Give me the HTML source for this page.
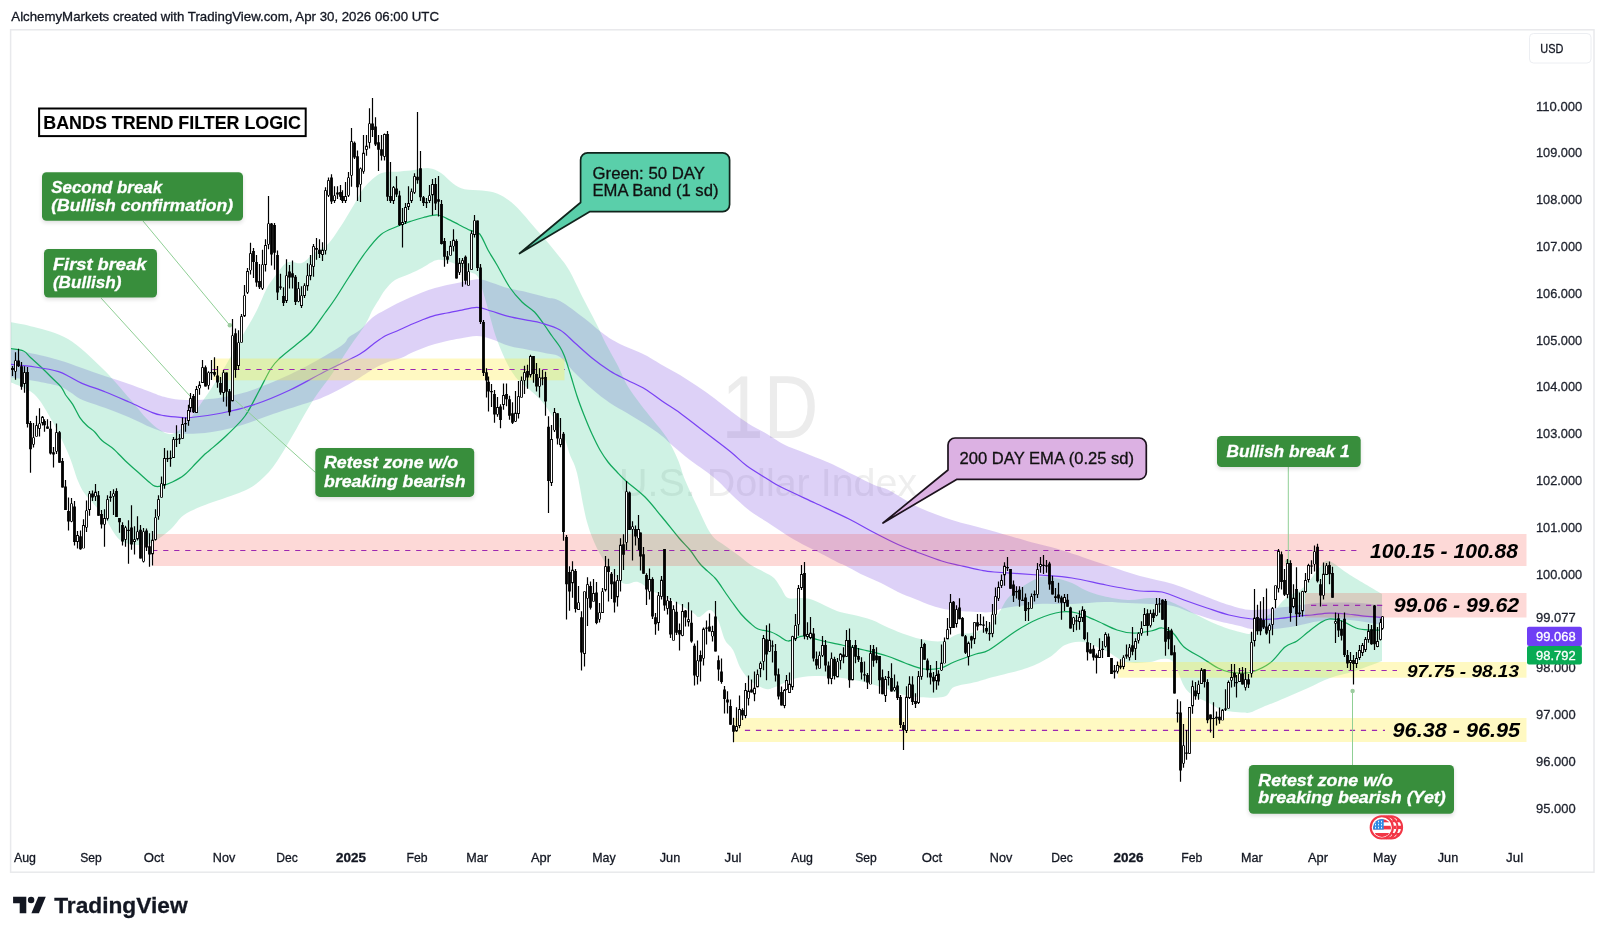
<!DOCTYPE html><html><head><meta charset="utf-8"><title>DXY chart</title><style>html,body{margin:0;padding:0;background:#fff}body{width:1605px;height:938px;overflow:hidden;font-family:"Liberation Sans", sans-serif}svg{display:block;opacity:0.999}</style></head><body><svg width="1605" height="938" viewBox="0 0 1605 938" font-family='"Liberation Sans", sans-serif'><defs><filter id="blur" x="-10%" y="-20%" width="120%" height="150%"><feGaussianBlur stdDeviation="2"/></filter><clipPath id="pane"><rect x="11" y="31" width="1516" height="812"/></clipPath></defs><rect width="1605" height="938" fill="#fff"/><text x="11.3" y="20.6" font-size="13" font-weight="normal" font-style="normal" fill="#131722" text-anchor="start" textLength="427.7" lengthAdjust="spacingAndGlyphs" stroke="#131722" stroke-width="0.3">AlchemyMarkets created with TradingView.com, Apr 30, 2026 06:00 UTC</text><rect x="10.6" y="29.8" width="1583.4" height="842.4" fill="none" stroke="#e8e9ec" stroke-width="1.5"/><text x="721.6" y="438" font-size="89" font-weight="normal" font-style="normal" fill="#ececec" text-anchor="start" textLength="96.7" lengthAdjust="spacingAndGlyphs">1D</text><text x="619" y="495.8" font-size="38.7" font-weight="normal" font-style="normal" fill="#eeeeee" text-anchor="start" textLength="298.2" lengthAdjust="spacingAndGlyphs">U.S. Dollar Index</text><g clip-path="url(#pane)"><path d="M10 349C14.2 349.8 26.9 352.2 35 354C43.1 355.8 50.8 357.7 58.6 360C66.4 362.3 74.2 365.3 82 368C89.8 370.7 97.7 373.6 105.5 376.3C113.3 379 121.2 381.3 129 384C136.8 386.7 146.6 390.6 152.4 392.7C158.2 394.8 159.4 395.6 164 396.8C168.6 398 173.2 399.2 180 399.7C186.8 400.1 195.2 400.4 205 399.5C214.8 398.6 227.7 396.9 239 394C250.3 391.1 261.7 386.7 273 382C284.3 377.3 295.7 372 307 366C318.3 360 334 350.8 341 346C348 341.2 345.8 339.7 349 337C352.2 334.3 356.1 333.2 360 330C363.9 326.8 368.3 320.8 372.5 317.5C376.7 314.2 380.9 312.3 385 310C389.1 307.7 392.8 305.7 397 303.6C401.2 301.5 405.8 299.3 410 297.4C414.2 295.5 417.8 294 422 292.4C426.2 290.8 430.8 289.2 435 288C439.2 286.8 442.8 285.9 447 285C451.2 284.1 455.8 283.2 460 282.4C464.2 281.6 468.7 280.5 472 280C475.3 279.5 476.8 278.9 480 279.3C483.2 279.7 486.1 280.8 491 282.4C495.9 283.9 503.3 286.9 509.5 288.6C515.7 290.3 521.8 290.9 528 292.4C534.2 293.9 541.7 296 547 297.4C552.3 298.8 553.8 297.6 560 301C566.2 304.4 577.2 312.8 584 318C590.8 323.2 595.3 327.8 601 332C606.7 336.2 610.7 339.2 618 343C625.3 346.8 637.7 351.3 645 355C652.3 358.7 656.2 361.7 662 365C667.8 368.3 674.2 371.5 680 375C685.8 378.5 691.3 382.2 697 386C702.7 389.8 708.2 393.7 714 398C719.8 402.3 726.2 407.7 732 412C737.8 416.3 743.2 420.3 749 424C754.8 427.7 761.2 430.6 767 434C772.8 437.4 778.5 441.7 784 444.5C789.5 447.3 794.7 448.8 800 451C805.3 453.2 810.5 455.3 816 457.5C821.5 459.7 826.7 461.5 833 464.4C839.3 467.3 846.9 471.5 854 475C861.1 478.5 869.5 483 875.4 485.6C881.3 488.2 882.3 486.9 889.4 490.5C896.5 494.1 907.6 502.1 918 507C928.4 511.9 940.2 516.2 952 520C963.8 523.8 976.5 526.5 989 530C1001.5 533.5 1015 537.7 1027 541C1039 544.3 1047.8 546 1061 550C1074.2 554 1092.8 560.7 1106 565C1119.2 569.3 1128.8 572.8 1140 576C1151.2 579.2 1161.8 580.5 1173 584C1184.2 587.5 1197.7 593.5 1207 597C1216.3 600.5 1221.5 602.8 1229 605C1236.5 607.2 1242.7 609.7 1252 610C1261.3 610.3 1276.2 607.9 1285 607C1293.8 606.1 1299.2 605.2 1305 604.5C1310.8 603.8 1312.5 603.1 1320 602.8C1327.5 602.5 1339.7 602.2 1350 602.6C1360.3 603 1376.7 604.6 1382 605L1382 625C1376.7 624.2 1360.3 620.7 1350 620C1339.7 619.3 1329 620 1320 621C1311 622 1303.7 624.7 1296 626C1288.3 627.3 1281.3 628.5 1274 629C1266.7 629.5 1257.7 629.5 1252 629C1246.3 628.5 1245.7 627.3 1240 626C1234.3 624.7 1225.5 623 1218 621C1210.5 619 1202.5 616.5 1195 614C1187.5 611.5 1180.3 607.7 1173 606C1165.7 604.3 1158.5 604.5 1151 604C1143.5 603.5 1135.8 603.3 1128 603C1120.2 602.7 1113.3 601.8 1104 602C1094.7 602.2 1083 603.7 1072 604C1061 604.3 1049.2 603.3 1038 604C1026.8 604.7 1012.8 606.7 1005 608C997.2 609.3 995.8 611.3 991 612C986.2 612.7 982.8 612.3 976 612C969.2 611.7 957.2 611 950 610C942.8 609 938.8 607.8 933 606C927.2 604.2 920.8 601.3 915 599C909.2 596.7 903.7 594.7 898 592C892.3 589.3 886.8 585.8 881 583C875.2 580.2 868.8 577.8 863 575C857.2 572.2 850.3 568.2 846 566C841.7 563.8 841.3 564.2 837 562C832.7 559.8 825.8 556 820 553C814.2 550 807.8 547.2 802 544C796.2 540.8 790.8 537.7 785 534C779.2 530.3 772.8 525.8 767 522C761.2 518.2 755.8 515.5 750 511C744.2 506.5 737.3 500 732 495C726.7 490 722.7 485.2 718 481C713.3 476.8 708.7 473.5 704 470C699.3 466.5 695.2 464 690 460C684.8 456 677.7 450 673 446C668.3 442 666.7 439.7 662 436C657.3 432.3 650.8 427.8 645 424C639.2 420.2 632.8 416.5 627 413C621.2 409.5 615.8 407 610 403C604.2 399 597.8 394 592 389C586.2 384 580.3 378.3 575 373C569.7 367.7 564.7 360.3 560 357C555.3 353.7 552.3 354.6 547 353.4C541.7 352.2 534.2 350.9 528 349.7C521.8 348.5 515.7 347.8 509.5 346C503.3 344.2 496.4 340.7 491 339C485.6 337.3 482.2 336.1 477 336C471.8 335.9 465 337.7 460 338.5C455 339.3 451.2 340.1 447 341C442.8 341.9 439.2 342.8 435 344C430.8 345.2 426.2 346.8 422 348.4C417.8 350 413.5 351.8 410 353.4C406.5 355 404.7 356.6 401 358C397.3 359.4 392.3 360.3 388 362C383.7 363.7 380.3 365 375 368C369.7 371 361.5 376.7 356 380C350.5 383.3 347.2 385.1 342 387.9C336.8 390.7 329.9 394.3 324.7 396.6C319.5 398.9 319.4 398.9 310.8 401.8C302.2 404.7 285 410 273 414C261 418 250.3 422.8 239 426C227.7 429.2 216.3 431.8 205 433C193.7 434.2 179.8 433.8 171 433C162.2 432.2 159.4 430.6 152.4 428C145.4 425.4 136.8 420.6 129 417.3C121.2 414 113.3 410.9 105.5 408C97.7 405.1 87.9 402.4 82 399.7C76.1 397 73.9 394.3 70 392C66.1 389.7 64.4 387.8 58.6 386C52.8 384.2 43.1 382.5 35 381C26.9 379.5 14.2 377.7 10 377Z" fill="rgba(120,72,222,0.25)"/><path d="M10 322C14 322.8 24.3 324.2 34 327C43.7 329.8 56.7 332.2 68 339C79.3 345.8 91.7 358 102 368C112.3 378 122.5 390.5 130 399C137.5 407.5 142 413.8 147 419C152 424.2 155.8 427.5 160 430C164.2 432.5 167.8 434.8 172 434C176.2 433.2 180.3 429.8 185 425C189.7 420.2 194.2 413.3 200 405C205.8 396.7 213.3 385.8 220 375C226.7 364.2 234 350.5 240 340C246 329.5 251.7 320.3 256 312C260.3 303.7 263.2 295.5 266 290C268.8 284.5 269.5 283.6 273 279C276.5 274.4 282.2 265.2 287 262.5C291.8 259.8 297.5 264.6 302 263C306.5 261.4 309.7 256.2 314 253C318.3 249.8 323.5 248.5 328 244C332.5 239.5 337.5 231.2 341 226C344.5 220.8 346.2 217.7 349 213C351.8 208.3 355.3 202.4 358 198C360.7 193.6 361.2 190.7 365 186.6C368.8 182.5 375.2 175.8 381 173.3C386.8 170.8 394.5 172.1 400 171.5C405.5 170.9 409.2 170.6 414 170C418.8 169.4 424.5 167.7 429 168.2C433.5 168.7 437 170.4 441 173C445 175.6 449.1 180.8 453 183.5C456.9 186.2 459.7 188.1 464.5 189.3C469.3 190.5 476.6 189.8 482 190.5C487.4 191.2 492.1 191.5 497 193.4C501.9 195.3 507.1 198.8 511.4 202.2C515.7 205.6 519.1 209.7 523 214C526.9 218.3 531.1 223.5 535 228C538.9 232.5 542.8 236.5 546.6 241C550.4 245.5 554.3 250.2 558 255C561.7 259.8 564.7 262.5 569 270C573.3 277.5 579.5 291.2 584 300C588.5 308.8 592.3 315.7 596 323C599.7 330.3 602.3 336.8 606 344C609.7 351.2 614.5 359.2 618 366C621.5 372.8 623.2 378.5 627 385C630.8 391.5 636.7 399.2 641 405C645.3 410.8 648.7 414.5 653 420C657.3 425.5 662.8 431.3 667 438C671.2 444.7 675 453 678 460C681 467 681.8 472.3 685 480C688.2 487.7 692.7 497 697 506C701.3 515 706.5 527.5 711 534C715.5 540.5 719.5 541.5 724 545C728.5 548.5 733.5 551.7 738 555C742.5 558.3 746.7 562.2 751 565C755.3 567.8 760.2 569.8 764 572C767.8 574.2 771.2 575.3 774 578C776.8 580.7 778.7 584.7 781 588C783.3 591.3 784.5 596.3 788 598C791.5 599.7 797.8 597.7 802 598C806.2 598.3 808.7 598.5 813 600C817.3 601.5 823.5 605 828 607C832.5 609 835.7 610.7 840 612C844.3 613.3 848.7 613.7 854 615C859.3 616.3 866.2 617.8 872 620C877.8 622.2 883.2 625.5 889 628C894.8 630.5 901 633 907 635C913 637 919 639 925 640C931 641 937.5 642 943 641C948.5 640 953.3 635.3 958 634C962.7 632.7 965.8 634.3 971 633C976.2 631.7 984.2 629.7 989 626C993.8 622.3 996.3 616.2 1000 611C1003.7 605.8 1004.7 600.5 1011 595C1017.3 589.5 1030.8 580.8 1038 578C1045.2 575.2 1048.3 577.2 1054 578C1059.7 578.8 1066.8 581 1072 583C1077.2 585 1079.8 587.8 1085 590C1090.2 592.2 1095.8 594.3 1103 596C1110.2 597.7 1120.2 599.7 1128 600C1135.8 600.3 1143.7 598 1150 598C1156.3 598 1160.3 598.3 1166 600C1171.7 601.7 1179.2 605.7 1184 608C1188.8 610.3 1189.3 611.2 1195 614C1200.7 616.8 1210.5 622 1218 625C1225.5 628 1234.3 630.7 1240 632C1245.7 633.3 1248 635.2 1252 633C1256 630.8 1260.2 622.8 1264 619C1267.8 615.2 1271.3 613.5 1275 610C1278.7 606.5 1281.2 601.8 1286 598C1290.8 594.2 1298.3 592.2 1304 587C1309.7 581.8 1315.8 571.3 1320 567C1324.2 562.7 1324 559.7 1329 561C1334 562.3 1341.2 569.5 1350 575C1358.8 580.5 1376.7 590.8 1382 594L1382 661C1377.5 662.7 1363.7 668.2 1355 671C1346.3 673.8 1337.8 675.2 1330 678C1322.2 680.8 1315.5 684.7 1308 688C1300.5 691.3 1292.5 694.8 1285 698C1277.5 701.2 1268.8 704.6 1263 707C1257.2 709.4 1253.2 711.7 1250 712.6C1246.8 713.5 1246.9 712.8 1244 712.6C1241.1 712.5 1236.3 712.2 1232.4 711.7C1228.5 711.2 1224.6 711 1220.7 709.5C1216.8 708 1213 705 1209 703C1205 701 1200 698.9 1197 697.4C1194 695.9 1193.2 695.9 1191 694C1188.8 692.1 1187 691.3 1184 686C1181 680.7 1176.7 666.5 1173 662C1169.3 657.5 1165.8 659 1162 659C1158.2 659 1156 661.5 1150 662C1144 662.5 1133.3 663.8 1126 662C1118.7 660.2 1113.2 654.3 1106 651C1098.8 647.7 1089.8 643 1083 642C1076.2 641 1070.5 642.5 1065 645C1059.5 647.5 1056.3 653.2 1050 657C1043.7 660.8 1036.5 664.7 1027 668C1017.5 671.3 1001.5 674.7 993 677C984.5 679.3 982.5 680.3 976 682C969.5 683.7 959.5 684.5 954 687C948.5 689.5 950.5 695.5 943 697C935.5 698.5 918.3 697.3 909 696C899.7 694.7 894.5 691.3 887 689C879.5 686.7 871.5 683.8 864 682C856.5 680.2 849.3 679 842 678C834.7 677 827.5 676 820 676C812.5 676 804.5 676.2 797 678C789.5 679.8 780.2 685.2 775 687C769.8 688.8 769.8 689.8 766 689C762.2 688.2 756.2 685.3 752 682C747.8 678.7 744.2 674.3 741 669C737.8 663.7 735.7 654.8 733 650C730.3 645.2 727.5 645 725 640C722.5 635 720.5 625 718 620C715.5 615 713.2 610.5 710 610C706.8 609.5 702 616.7 699 617C696 617.3 697.8 615.5 692 612C686.2 608.5 670.7 599.5 664 596C657.3 592.5 656.3 593.3 652 591C647.7 588.7 642.3 583.2 638 582C633.7 580.8 629.5 584.7 626 584C622.5 583.3 621.3 583 617 578C612.7 573 605 563.3 600 554C595 544.7 590.8 535.5 587 522C583.2 508.5 579.8 484.2 577 473C574.2 461.8 572.5 461.8 570 455C567.5 448.2 566.3 440.5 562 432C557.7 423.5 549.3 411 544 404C538.7 397 534 393.7 530 390C526 386.3 523 385 520 382C517 379 514.6 376 512 372C509.4 368 507.2 363.8 504.5 358C501.8 352.2 498.5 344.2 496 337C493.5 329.8 491.5 321.7 489.6 315C487.7 308.3 486.5 303.3 484.6 297C482.7 290.7 480.4 281.2 478 277C475.6 272.8 473 273.8 470 272C467 270.2 463.3 267.7 460 266C456.7 264.3 453 263 450 262C447 261 444.5 260.2 442 260C439.5 259.8 438.3 259.3 435 260.6C431.7 261.9 426.2 265.8 422 268C417.8 270.2 414.5 271.7 410 273.7C405.5 275.7 399.2 277.3 395 280C390.8 282.7 387.7 286.7 385 290C382.3 293.3 380.8 296.7 378.7 300C376.6 303.3 374.8 305.8 372.5 310C370.2 314.2 368.9 318.7 365 325C361.1 331.3 354.5 339.8 349 348C343.5 356.2 337.8 365.7 332 374C326.2 382.3 319.5 390.5 314.5 398C309.5 405.5 306.1 412 302 419C297.9 426 294.8 432 290 440C285.2 448 278.7 459.7 273 467C267.3 474.3 261.7 479.7 256 484C250.3 488.3 247.5 489.5 239 493C230.5 496.5 214.2 501.3 205 505C195.8 508.7 189.7 511 184 515C178.3 519 175.8 524.7 171 529C166.2 533.3 160.2 538.3 155 541C149.8 543.7 145.8 545.2 140 545C134.2 544.8 125.8 544.5 120 540C114.2 535.5 109.2 523.8 105 518C100.8 512.2 98.3 509.5 95 505.5C91.7 501.5 87.8 498.1 85 494C82.2 489.9 80.8 487.8 78 481C75.2 474.2 72.5 463.3 68 453C63.5 442.7 56.7 428.8 51 419C45.3 409.2 40.8 400.2 34 394C27.2 387.8 14 384 10 382Z" fill="rgba(26,193,126,0.21)"/><path d="M10 348.5C12.2 348.9 20.1 349.5 23.5 351C26.9 352.5 27.6 354.8 30.5 357.5C33.4 360.2 37.5 363.7 41 367C44.5 370.3 48.3 374.2 51.6 377.5C54.9 380.8 58.6 383.9 61 386.8C63.4 389.7 63.8 392.1 65.7 395C67.7 397.9 70.4 400.7 72.7 404.4C75 408.1 77.4 413.8 79.7 417.3C82 420.8 84.2 423 86.8 425.5C89.3 428 92.5 429.7 95 432.2C97.5 434.7 98.9 437.7 102 440.5C105.1 443.3 109.9 445.8 113.8 449.2C117.7 452.6 121.6 457.3 125.5 461C129.4 464.7 133.4 468 137.3 471.5C141.2 475 146.1 479.6 149 482C151.9 484.4 152.9 485.5 154.8 486.2C156.8 486.9 157.8 486.9 160.7 486.2C163.6 485.5 168.5 483.9 172.4 482C176.3 480.1 180.3 478.1 184.2 475C188.1 471.9 192.4 466.8 195.9 463.3C199.4 459.8 202.7 456.2 205 454C207.3 451.8 206.3 453.2 210 450C213.7 446.8 221.2 440.7 227 435C232.8 429.3 239.7 423.3 245 416C250.3 408.7 254.7 398.9 259 391C263.3 383.1 267.5 374 271 368.5C274.5 363 275.7 362.1 280 358C284.3 353.9 291.8 348.3 297 344C302.2 339.7 306.3 337.2 311 332C315.7 326.8 321 318.5 325 313C329 307.5 331 305 335 299C339 293 344 284.7 349 277C354 269.3 359.7 260.1 365 253C370.3 245.9 375.7 238.9 381 234.5C386.3 230.1 391.9 228.8 397 226.5C402.1 224.2 407.3 222.5 411.7 221C416.1 219.5 419.2 218.5 423.5 217.5C427.8 216.5 433.6 214.8 437.5 215C441.4 215.2 443.5 217 447 218.6C450.5 220.2 454.7 222.5 458.6 224.5C462.5 226.5 466.9 228.8 470.4 230.4C473.9 232 476.8 230.7 479.7 234C482.6 237.3 485.1 244.8 488 250C490.9 255.2 493.4 258.8 497 265C500.6 271.2 505.3 280.8 509.5 287C513.7 293.2 517.8 297.8 522 302C526.2 306.2 530.8 308.2 534.5 312C538.2 315.8 541.5 321 544.4 325C547.3 329 549.4 332.3 552 336C554.6 339.7 557.9 343.7 560 347C562.1 350.3 562.7 351.7 564.4 356C566.1 360.3 567.9 366.3 570 373C572.1 379.7 574.7 389 577 396C579.3 403 581.5 408.7 584 415C586.5 421.3 589.3 428.2 592 434C594.7 439.8 597.3 445.3 600 450C602.7 454.7 605.2 458.3 608 462C610.8 465.7 614 468.8 617 472C620 475.2 621.3 476.8 626 481C630.7 485.2 639 491 645 497C651 503 656.3 510.2 662 517C667.7 523.8 674.3 532.5 679 538C683.7 543.5 686.3 545.5 690 550C693.7 554.5 696.8 560.3 701 565C705.2 569.7 711 573.5 715 578C719 582.5 722.2 588 725 592C727.8 596 729.3 598.3 732 602C734.7 605.7 738 610.5 741 614C744 617.5 747.2 620.5 750 623C752.8 625.5 754.5 627.5 758 629C761.5 630.5 767.5 630.8 771 632C774.5 633.2 776.2 634.5 779 636C781.8 637.5 784.7 640.8 788 641C791.3 641.2 796 637.8 799 637C802 636.2 802.7 635.5 806 636C809.3 636.5 813 638.5 819 640C825 641.5 834.5 643.3 842 645C849.5 646.7 856.5 648.2 864 650C871.5 651.8 880.2 653.8 887 656C893.8 658.2 898.8 660.8 905 663C911.2 665.2 918 668.2 924 669C930 669.8 936 669.2 941 668C946 666.8 948.2 664.3 954 662C959.8 659.7 970.2 656 976 654C981.8 652 982.3 653.8 989 650C995.7 646.2 1007.8 636.2 1016 631C1024.2 625.8 1030.5 622.2 1038 619C1045.5 615.8 1054.5 613 1061 612C1067.5 611 1071.3 611.7 1077 613C1082.7 614.3 1088.3 617.2 1095 620C1101.7 622.8 1110.7 627.8 1117 630C1123.3 632.2 1127.3 632.8 1133 633C1138.7 633.2 1146.2 631.8 1151 631C1155.8 630.2 1158.3 627.7 1162 628C1165.7 628.3 1169.3 629.8 1173 633C1176.7 636.2 1179.2 642.8 1184 647C1188.8 651.2 1196.3 654.5 1202 658C1207.7 661.5 1213.5 665.7 1218 668C1222.5 670.3 1225.3 671.2 1229 672C1232.7 672.8 1236.2 673 1240 673C1243.8 673 1247 673.7 1252 672C1257 670.3 1264.5 667.2 1270 663C1275.5 658.8 1280.5 650.7 1285 647C1289.5 643.3 1293.2 643.5 1297 641C1300.8 638.5 1304.2 635 1308 632C1311.8 629 1316.5 625.2 1320 623C1323.5 620.8 1325.3 619.3 1329 619C1332.7 618.7 1337.5 619.5 1342 621C1346.5 622.5 1351.5 626.5 1356 628C1360.5 629.5 1364.7 629.7 1369 630C1373.3 630.3 1379.8 630 1382 630" fill="none" stroke="#12a85c" stroke-width="1.25"/><path d="M10 364.4C14.2 364.8 26.9 365.8 35 367C43.1 368.2 52.8 369.9 58.6 371.6C64.4 373.3 66.1 375.1 70 377C73.9 378.9 76.1 380.8 82 383.3C87.9 385.8 97.7 388.9 105.5 392C113.3 395.1 121.2 398.6 129 402C136.8 405.4 146.6 410.3 152.4 412.6C158.2 414.9 159.4 414.8 164 415.6C168.6 416.4 175.5 417 180 417.3C184.5 417.6 184 418.2 191 417.5C198 416.8 211.2 415.2 222 413C232.8 410.8 244.7 407.8 256 404C267.3 400.2 278.7 395.3 290 390C301.3 384.7 312.3 378 324 372C335.7 366 351.9 358.6 360 354C368.1 349.4 368.3 347.7 372.5 344.7C376.7 341.7 380.9 338.3 385 336C389.1 333.7 392.8 332.8 397 331C401.2 329.2 405.8 326.8 410 325C414.2 323.2 417.8 321.6 422 320C426.2 318.4 430.8 316.6 435 315.4C439.2 314.2 442.8 313.8 447 313C451.2 312.2 455 311.3 460 310.4C465 309.4 471.8 307.2 477 307.3C482.2 307.4 485.6 309.4 491 311C496.4 312.6 503.3 315.1 509.5 316.7C515.7 318.3 522.8 319.3 528 320.4C533.2 321.4 535.7 321.4 541 323C546.3 324.6 554.3 326.7 560 330C565.7 333.3 569.7 338.3 575 343C580.3 347.7 586.2 353.3 592 358C597.8 362.7 604.2 367.3 610 371C615.8 374.7 621.2 377 627 380C632.8 383 639.2 385.5 645 389C650.8 392.5 656.2 397 662 401C667.8 405 674.2 408.8 680 413C685.8 417.2 691.3 421.7 697 426C702.7 430.3 708.2 434.5 714 439C719.8 443.5 726.5 448.5 732 453C737.5 457.5 740.8 461.5 747 466C753.2 470.5 763.3 476.5 769 480C774.7 483.5 773.3 483.2 781 487C788.7 490.8 803.7 497.7 815 503C826.3 508.3 839.5 514.2 849 519C858.5 523.8 863.8 527.2 872 531.5C880.2 535.8 890.8 541.2 898 544.5C905.2 547.8 908.2 548.8 915.5 551.5C922.8 554.2 934.3 558.7 941.7 561C949.1 563.3 953.6 564 960 565.5C966.4 567 974.3 568.9 980 570C985.7 571.1 984.3 571.2 994 572C1003.7 572.8 1025 574 1038 575C1051 576 1060.7 576.3 1072 578C1083.3 579.7 1094.7 582.8 1106 585C1117.3 587.2 1130.7 589.8 1140 591C1149.3 592.2 1154.7 590.5 1162 592C1169.3 593.5 1176.5 597.3 1184 600C1191.5 602.7 1199.5 605.5 1207 608C1214.5 610.5 1221.5 613.2 1229 615C1236.5 616.8 1244.5 618.3 1252 619C1259.5 619.7 1266.7 619.4 1274 619C1281.3 618.6 1289.7 617.1 1296 616.4C1302.3 615.7 1306.5 615.5 1312 615C1317.5 614.5 1323.2 613.4 1329 613.2C1334.8 613 1341.5 613.5 1347 614C1352.5 614.5 1356.2 615.3 1362 615.9C1367.8 616.5 1378.7 617.1 1382 617.4" fill="none" stroke="#7a42f4" stroke-width="1.25"/><rect x="153" y="534" width="1373.5" height="32" fill="rgba(244,67,54,0.20)"/><rect x="1305" y="593" width="221.5" height="24.5" fill="rgba(244,67,54,0.20)"/><rect x="213" y="358.5" width="351.5" height="21.8" fill="rgba(255,235,59,0.31)"/><rect x="1118" y="662" width="408.5" height="15.7" fill="rgba(255,235,59,0.31)"/><rect x="734" y="718" width="792.5" height="24" fill="rgba(255,235,59,0.31)"/><path d="M212.4 369.5H565" stroke="#9c27b0" stroke-width="1.1" stroke-dasharray="5.2 5.8" fill="none"/><path d="M152.2 550.5H1357" stroke="#9c27b0" stroke-width="1.1" stroke-dasharray="5.2 5.8" fill="none"/><path d="M1311 605.4H1383" stroke="#9c27b0" stroke-width="1.1" stroke-dasharray="5.2 5.8" fill="none"/><path d="M1128.5 670.5H1397" stroke="#9c27b0" stroke-width="1.1" stroke-dasharray="5.2 5.8" fill="none"/><path d="M744.9 730.4H1385" stroke="#9c27b0" stroke-width="1.1" stroke-dasharray="5.2 5.8" fill="none"/><path d="M143 221L229.5 325" stroke="#8fcf95" stroke-width="1" fill="none"/><circle cx="229.8" cy="325.3" r="2.2" fill="#9ccc9f"/><path d="M101 298L190 396" stroke="#8fcf95" stroke-width="1" fill="none"/><path d="M315.5 472.5L235.5 400.5" stroke="#8fcf95" stroke-width="1" fill="none"/><path d="M1288.3 467V561" stroke="#8fcf95" stroke-width="1" fill="none"/><circle cx="1287.6" cy="561.5" r="2.2" fill="#9ccc9f"/><path d="M1352.5 691V766" stroke="#8fcf95" stroke-width="1" fill="none"/><circle cx="1352.6" cy="691" r="2.2" fill="#9ccc9f"/><path d="M12.5 366V376M15.5 352.2V379.8M18.5 348.7V367M21.5 362V389.8M24.5 366.3V392.7M27.5 367V427.6M30.5 421.1V472.7M33.5 422.9V447.5M36.5 415.8V436.4M39.5 408.2V436.4M42.5 416V425.5M44.5 419.3V431.7M47.5 419.3V428.7M50.5 421.1V454.5M53.5 446.9V467.4M56.5 423.5V453.9M59.5 431.1V462.7M62.5 458V487.6M65.5 480V509.9M68.5 497.6V530.4M71.5 498.1V522.2M74.5 501.1V545.6M77.5 531V548.6M80.5 530.4V549.7M83.5 519.3V548.3M86.5 500.5V532.1M89.5 491.1V515.7M92.5 490.5V501.1M95.5 484.1V501.1M98.5 491.1V515.7M101.5 509.9V528.6M104.5 509.3V546.8M107.5 495.2V520.4M110.5 491.1V501.7M113.5 489.3V515.1M116.5 488.2V516.9M119.5 518.1V532.7M122.5 522.2V545.6M125.5 525.7V546.8M128.5 520.2V563.8M131.5 505.2V549.7M134.5 526.3V554.4M137.5 516.3V540.4M140.5 525.1V558.5M143.5 528V562.6M146.5 528.6V550.9M149.5 533.3V566.7M152.5 531V565.6M155.5 509.3V540.4M158.5 495.2V519.8M161.5 476.4V497.6M164.5 448.1V488.8M167.5 450.4V462.1M170.5 450.4V466.8M173.5 436.9V458M176.5 425.2V446.9M179.5 434V444M182.5 417.6V438.7M185.5 417.6V431.7M188.5 404.7V425.8M190.5 393V412.3M193.5 394V413M196.5 386V412.9M199.5 381.3V394.7M202.5 360.1V383M205.5 365.4V386.5M208.5 371.3V389.5M211.5 360.1V380.1M214.5 357.2V376.6M217.5 366V387.7M220.5 377.1V394.7M223.5 370.1V401.8M226.5 372.5V406.5M229.5 388.9V415.8M232.5 319.1V401.2M235.5 328.5V377.7M238.5 330.2V370.1M241.5 314V342.6M244.5 285V317M247.5 268V294M250.5 242.8V274.4M253.5 248V277.9M256.5 255.1V286.7M259.5 263.9V289M262.5 249.8V290M265.5 239.2V271.5M268.5 195.9V249.2M271.5 223V265.6M274.5 223V269.7M277.5 250.4V300M280.5 273.8V289.7M283.5 287.3V306M286.5 259.2V303M289.5 265V288.5M292.5 260.4V288.5M295.5 275V305M298.5 282.1V302.2M301.5 286.2V308M304.5 283.2V298M307.5 263.3V290.8M310.5 255.1V280.3M313.5 243.9V276.8M316.5 238.1V259.8M319.5 239.2V258M322.5 242.2V260.9M325.5 187.3V254.5M328.5 177.4V197M331.5 174.2V204M334.5 186.2V203M337.5 186.2V199M340.5 185V200M342.5 190.3V203M345.5 182V203M348.5 172.1V197M351.5 128.1V186.7M354.5 141.6V159M357.5 150.4V201M360.5 167.4V202M363.5 135.1V173.8M366.5 135.1V155.7M369.5 108.2V148.6M372.5 98V136.9M375.5 117.2V146M378.5 135.1V170.9M381.5 135.1V160.4M384.5 133.4V160.4M387.5 131V201M390.5 162.1V203M393.5 186V204M396.5 176.2V197M399.5 190.8V226M402.5 208V247.4M405.5 203V224M408.5 186.2V210M411.5 188.5V203M414.5 173.3V194M417.5 112V183.8M420.5 151V201M423.5 196V206M426.5 198V208M429.5 185V203M432.5 179V215.2M435.5 178V209.9M438.5 176V216.4M441.5 199.9V244.5M444.5 238V266.8M447.5 250.9V263.8M450.5 241V255.6M453.5 229.2V251.5M456.5 239.2V278.5M459.5 258V275M462.5 258V286.7M465.5 255.6V284.4M468.5 263.3V285.5M471.5 230.4V269.7M474.5 214.9V237.5M477.5 220.5V270.9M480.5 264V324M483.5 320V376M486.5 368.2V397.5M488.5 376.4V411.6M491.5 384V406.9M494.5 389.9V422.7M497.5 396.9V416.8M500.5 404.2V428.3M503.5 383.4V409.8M506.5 383.4V406.3M509.5 395.7V419.8M512.5 402.2V423.9M515.5 391V422.1M518.5 381.1V418.6M521.5 376.4V397.5M524.5 365.8V394M527.5 364.7V388.7M530.5 354.7V377.6M533.5 355.9V382.8M536.5 362.9V391.6M539.5 368.2V397.5M542.5 369.9V385.2M545.5 371.7V415.7M548.5 416.3V513M551.5 425V486M554.5 408V432M557.5 413.3V444.4M560.5 418V447.3M563.5 432V540.7M566.5 535V619.5M569.5 566.2V610.7M572.5 561.2V597.8M575.5 569.1V612.5M578.5 586.1V610.1M581.5 611.3V670.5M584.5 591.4V666.4M587.5 577.3V626M590.5 581.4V609.6M593.5 579.1V601.4M596.5 582V624.2M599.5 603.1V622.5M602.5 587.9V613.1M605.5 555.9V591.4M608.5 558.8V601.4M611.5 572V599M614.5 569.1V612.5M617.5 575V606.6M620.5 538.3V591.4M623.5 534.2V570M626.5 481.1V550M629.5 491.4V530.1M632.5 521.3V560.6M635.5 525.4V545.4M638.5 514.9V550M640.5 532.5V570.6M643.5 547.1V573.8M646.5 573.2V604.9M649.5 568.5V599.6M652.5 577.3V618.9M655.5 613.1V634.8M658.5 592V630.7M661.5 576.1V599.6M664.5 549V610.7M667.5 596V614.6M670.5 598V638.1M673.5 605.2V640.4M676.5 601.7V635.1M679.5 623.4V650.4M682.5 604.1V636.3M685.5 609.9V626.4M688.5 602.3V626.4M691.5 610.5V642.8M694.5 643.4V685.6M697.5 640.4V684.4M700.5 650.4V681.5M703.5 627.5V665.6M706.5 620.5V644.5M709.5 613.5V631.6M712.5 625.8V641.6M715.5 601.1V651.6M718.5 655.6V680.8M721.5 658.5V683.7M724.5 686V713.6M727.5 691.3V713.6M730.5 699.5V724.7M733.5 717.7V742.3M736.5 707.2V731.8M739.5 695.4V728.3M742.5 708.3V720M745.5 683.1V718.3M748.5 675.5V705.4M751.5 679.6V692.5M754.5 671.4V701.3M757.5 669.6V687.2M760.5 661.4V677.2M763.5 635.1V670.2M766.5 625.2V680.2M769.5 623.4V652M772.5 640.4V662.6M775.5 643.9V681.4M778.5 668.5V699.5M781.5 686.6V705.4M784.5 689V708.3M786.5 675V690.2M789.5 672.6V693.1M792.5 635.7V690.1M795.5 614V641M798.5 585V635.7M801.5 565V590M804.5 562V639.2M807.5 622.2V639.8M810.5 617V639.2M813.5 628.1V661.4M816.5 651.4V669.6M819.5 651.4V668.5M822.5 636V657M825.5 640V671.4M828.5 661.4V684.3M831.5 652.6V684.3M834.5 656.7V679.6M837.5 657.9V677.2M840.5 653.2V669.6M843.5 647.3V663.2M846.5 630V657M849.5 628.5V687.8M852.5 645V680.2M855.5 640V663.2M858.5 648V662M861.5 657.3V679.6M864.5 661.4V681.4M867.5 673.1V689M870.5 645V684.3M873.5 645V666.7M876.5 647.3V663.2M879.5 656.1V693.7M882.5 669.6V694.3M885.5 676.1V701.9M888.5 670.9V685.6M891.5 663.3V691.4M894.5 674.4V691.4M897.5 681.5V700M900.5 695V728M903.5 722V750M906.5 686.2V733M909.5 676.2V699M912.5 676.2V705M915.5 693.2V708M918.5 670.9V704M921.5 639.2V679.7M924.5 642.8V659.8M927.5 658.6V677.4M930.5 665V684.4M933.5 672.1V692.6M936.5 660.9V689.7M938.5 670.3V685.6M941.5 644.5V670.9M944.5 637.5V663.3M947.5 618.1V639.2M950.5 594.1V634.6M953.5 601.1V628.1M956.5 605.2V627.5M959.5 598.2V619.3M962.5 617V636.3M965.5 635.1V653.9M968.5 641.6V665.6M971.5 635.7V648.6M974.5 622.2V643.9M977.5 614V630.5M980.5 614V625.2M983.5 616.4V632.8M986.5 621V633.8M989.5 622V640.8M992.5 603.9V637.3M995.5 587.5V624.4M998.5 581.6V601M1001.5 574.6V588.1M1004.5 562.3V585.7M1007.5 557V571.1M1010.5 569.1V588.7M1013.5 580.5V602.1M1016.5 586.3V598.6M1019.5 586.3V606.8M1022.5 586.9V601M1025.5 593.4V620.9M1028.5 602.1V620.9M1031.5 593.4V608.6M1034.5 590.4V601.6M1037.5 562.9V598M1040.5 557V572.8M1043.5 555V574M1046.5 560V572.8M1049.5 561.7V589.8M1052.5 575.8V594.5M1055.5 588.1V602.1M1058.5 582.8V602.7M1061.5 595.7V619.7M1064.5 594V611.1M1067.5 593.9V606.8M1070.5 606.8V628.5M1073.5 616.8V632M1076.5 615V630.3M1079.5 610.4V629.7M1082.5 606.3V622.1M1084.5 609.2V640.2M1087.5 632.3V660.5M1090.5 642.9V653.4M1093.5 645.2V660.5M1096.5 653.4V673.4M1099.5 638.2V658.1M1102.5 641.1V658.1M1105.5 632.3V647.6M1108.5 633.5V656.9M1111.5 658.1V673.9M1114.5 665.1V678.6M1117.5 661.6V673.4M1120.5 659.3V669.2M1123.5 655.2V669.2M1126.5 644.6V658.7M1129.5 644V660.5M1132.5 627V655.2M1135.5 638.2V659.9M1138.5 632.3V643.5M1141.5 621.2V635.8M1144.5 608V626M1147.5 609.2V635.8M1150.5 609.8V627.6M1153.5 609.2V622.1M1156.5 598V616.2M1159.5 598V612.7M1162.5 599.2V619.7M1165.5 599V655.8M1168.5 627V649.3M1171.5 628.8V655.2M1174.5 645.2V693.6M1177.5 699.2V722.6M1180.5 701.2V781.7M1183.5 724.1V767.8M1186.5 730V759.8M1189.5 707.1V753.8M1192.5 680.4V713.8M1195.5 682.1V699.7M1198.5 680.4V699.7M1201.5 668.1V683.9M1204.5 669.2V687.4M1207.5 679.2V723.2M1210.5 714.5V732.6M1213.5 702.3V738M1216.5 711.5V725.5M1219.5 707.4V723.8M1222.5 709.1V720.3M1225.5 689.2V710.9M1228.5 680.4V708.5M1231.5 664V687.4M1234.5 664V686.8M1236.5 675.1V697.4M1239.5 668.1V682.1M1242.5 666.9V684.5M1245.5 668.1V690.4M1248.5 673.9V688M1251.5 631.7V677.5M1254.5 588.9V646.4M1257.5 604.8V634.7M1260.5 601.3V635.3M1263.5 597.1V629M1266.5 588.4V634.7M1269.5 623.5V643.5M1272.5 607.1V635.3M1275.5 585.4V608.3M1278.5 549V592.5M1281.5 551.4V589.5M1284.5 569V596M1287.5 559V598.3M1290.5 560.2V621.8M1293.5 584.2V608.3M1296.5 567.2V625.9M1299.5 592.5V617.1M1302.5 590.7V616.5M1305.5 573.1V593M1308.5 563.7V582.5M1311.5 560.2V574M1314.5 545.6V571.4M1317.5 543.8V582.5M1320.5 579V606.5M1323.5 562.6V599.5M1326.5 563.1V574.9M1329.5 561.4V584.2M1332.5 566.7V597.7M1335.5 612.4V642.9M1338.5 613.6V637M1341.5 620.6V640.5M1344.5 612.4V657M1347.5 650V668M1350.5 652V670M1353.5 655V684.4M1356.5 652V668M1359.5 645V660M1362.5 643V656M1365.5 637V652M1368.5 624V642.8M1371.5 624.9V644.8M1374.5 605V650M1377.5 627V647.3M1380.5 618.5V640.6M1382.5 615.9V629.7" stroke="#000" stroke-width="1.2" fill="none"/><path d="M11.1 368h2.8V370h-2.8ZM14.1 360.5h2.8V371.6h-2.8ZM17.1 360.5h2.8V366.3h-2.8ZM20.1 366.3h2.8V386.8h-2.8ZM23.1 372.2h2.8V383.9h-2.8ZM26.1 372h2.8V424h-2.8ZM29.1 422.9h2.8V449.2h-2.8ZM32.1 437.5h2.8V444.6h-2.8ZM35.1 425.2h2.8V436.4h-2.8ZM38.1 423.5h2.8V428.7h-2.8ZM41.1 416.8h2.8V423.2h-2.8ZM43.1 421.1h2.8V425.2h-2.8ZM46.1 426.4h2.8V428.7h-2.8ZM49.1 428.7h2.8V453.4h-2.8ZM52.1 452.2h2.8V454.5h-2.8ZM55.1 432.2h2.8V451.6h-2.8ZM58.1 432.2h2.8V462.7h-2.8ZM61.1 461h2.8V487.6h-2.8ZM64.1 486.4h2.8V509.9h-2.8ZM67.1 511h2.8V521.6h-2.8ZM70.1 503.4h2.8V521.6h-2.8ZM73.1 506.4h2.8V542.1h-2.8ZM76.1 535.1h2.8V542.1h-2.8ZM79.1 536.3h2.8V549.2h-2.8ZM82.1 525.1h2.8V548.3h-2.8ZM85.1 510.5h2.8V527.5h-2.8ZM88.1 493.5h2.8V509.9h-2.8ZM91.1 493.5h2.8V497.6h-2.8ZM94.1 491.7h2.8V496.4h-2.8ZM97.1 495.2h2.8V515.7h-2.8ZM100.1 514h2.8V524.5h-2.8ZM103.1 518.1h2.8V524.5h-2.8ZM106.1 499.3h2.8V518.7h-2.8ZM109.1 496.4h2.8V498.1h-2.8ZM112.1 493.5h2.8V496.4h-2.8ZM115.1 491.1h2.8V516.9h-2.8ZM118.1 518.1h2.8V522.2h-2.8ZM121.1 525.1h2.8V541.5h-2.8ZM124.1 527.5h2.8V539.8h-2.8ZM127.1 529.8h2.8V531h-2.8ZM130.1 527.5h2.8V544.5h-2.8ZM133.1 539.2h2.8V542.1h-2.8ZM136.1 531.6h2.8V539.2h-2.8ZM139.1 529.8h2.8V558.5h-2.8ZM142.1 531.6h2.8V561.5h-2.8ZM145.1 530.4h2.8V547.4h-2.8ZM148.1 546.2h2.8V554.4h-2.8ZM151.1 539.8h2.8V554.2h-2.8ZM154.1 517.5h2.8V539.8h-2.8ZM157.1 499.3h2.8V516.3h-2.8ZM160.1 483.5h2.8V497.6h-2.8ZM163.1 458h2.8V485.2h-2.8ZM166.1 458h2.8V459.2h-2.8ZM169.1 457.7h2.8V458.9h-2.8ZM172.1 439.3h2.8V458h-2.8ZM175.1 438.8h2.8V440h-2.8ZM178.1 438.2h2.8V439.4h-2.8ZM181.1 424h2.8V438.7h-2.8ZM184.1 423h2.8V424.2h-2.8ZM187.1 410h2.8V421.1h-2.8ZM189.1 398.3h2.8V408.2h-2.8ZM192.1 395.9h2.8V412.3h-2.8ZM195.1 388.9h2.8V412.9h-2.8ZM198.1 384.8h2.8V388.3h-2.8ZM201.1 367.2h2.8V383h-2.8ZM204.1 367.2h2.8V386.5h-2.8ZM207.1 372.5h2.8V385.4h-2.8ZM210.1 372h2.8V373.2h-2.8ZM213.1 371.9h2.8V374.8h-2.8ZM216.1 375.4h2.8V382.4h-2.8ZM219.1 383h2.8V392.4h-2.8ZM222.1 372.5h2.8V393h-2.8ZM225.1 372.5h2.8V391.8h-2.8ZM228.1 391.2h2.8V412.3h-2.8ZM231.1 335.5h2.8V401.2h-2.8ZM234.1 333.2h2.8V370.1h-2.8ZM237.1 342.6h2.8V366h-2.8ZM240.1 316.2h2.8V342.6h-2.8ZM243.1 295.5h2.8V316.2h-2.8ZM246.1 270.9h2.8V292.6h-2.8ZM249.1 253.3h2.8V270.3h-2.8ZM252.1 251h2.8V262.1h-2.8ZM255.1 262.1h2.8V282.6h-2.8ZM258.1 280.9h2.8V287.3h-2.8ZM261.1 264.5h2.8V288.5h-2.8ZM264.1 245.1h2.8V265h-2.8ZM267.1 223.4h2.8V244.5h-2.8ZM270.1 223.4h2.8V254.5h-2.8ZM273.1 225h2.8V252.7h-2.8ZM276.1 255.1h2.8V292.6h-2.8ZM279.1 286.5h2.8V287.7h-2.8ZM282.1 296.1h2.8V303h-2.8ZM285.1 275.6h2.8V301h-2.8ZM288.1 271.5h2.8V277.4h-2.8ZM291.1 273.3h2.8V277.4h-2.8ZM294.1 276.8h2.8V302h-2.8ZM297.1 288.4h2.8V301.5h-2.8ZM300.1 295.5h2.8V306h-2.8ZM303.1 285.6h2.8V296.1h-2.8ZM306.1 275.6h2.8V286.2h-2.8ZM309.1 264.5h2.8V276.2h-2.8ZM312.1 246.3h2.8V266.8h-2.8ZM315.1 248h2.8V249.8h-2.8ZM318.1 249.8h2.8V253.9h-2.8ZM321.1 249.8h2.8V255.1h-2.8ZM324.1 190.3h2.8V250.4h-2.8ZM327.1 180.3h2.8V195.5h-2.8ZM330.1 177.4h2.8V201.5h-2.8ZM333.1 195.5h2.8V201h-2.8ZM336.1 192.6h2.8V194.4h-2.8ZM339.1 192h2.8V196.7h-2.8ZM341.1 196.1h2.8V201h-2.8ZM344.1 196.1h2.8V201h-2.8ZM347.1 177.4h2.8V195.5h-2.8ZM350.1 141.2h2.8V175.4h-2.8ZM353.1 142.8h2.8V157.4h-2.8ZM356.1 156.3h2.8V187.3h-2.8ZM359.1 168.6h2.8V184.4h-2.8ZM362.1 152.7h2.8V171.5h-2.8ZM365.1 145.7h2.8V149.8h-2.8ZM368.1 123.4h2.8V142.8h-2.8ZM371.1 123.4h2.8V129.9h-2.8ZM374.1 126.4h2.8V144.5h-2.8ZM377.1 142.2h2.8V149.8h-2.8ZM380.1 149.2h2.8V155.7h-2.8ZM383.1 134h2.8V156.8h-2.8ZM386.1 134h2.8V196.7h-2.8ZM389.1 196.1h2.8V201h-2.8ZM392.1 187.3h2.8V201h-2.8ZM395.1 188.5h2.8V194.4h-2.8ZM398.1 195.5h2.8V225h-2.8ZM401.1 222h2.8V225h-2.8ZM404.1 207h2.8V222h-2.8ZM407.1 203h2.8V207h-2.8ZM410.1 191.4h2.8V201h-2.8ZM413.1 176.2h2.8V192.6h-2.8ZM416.1 176.8h2.8V180.3h-2.8ZM419.1 168.3h2.8V197.3h-2.8ZM422.1 197.3h2.8V203h-2.8ZM425.1 202h2.8V203.2h-2.8ZM428.1 195.5h2.8V201h-2.8ZM431.1 184.1h2.8V195.2h-2.8ZM434.1 184.1h2.8V203.5h-2.8ZM437.1 199.3h2.8V201.7h-2.8ZM440.1 204h2.8V243.9h-2.8ZM443.1 241h2.8V256.8h-2.8ZM446.1 256.2h2.8V259.7h-2.8ZM449.1 245.7h2.8V255.6h-2.8ZM452.1 239.8h2.8V246.3h-2.8ZM455.1 241h2.8V278.5h-2.8ZM458.1 262.7h2.8V272.6h-2.8ZM461.1 260.3h2.8V263.8h-2.8ZM464.1 256.8h2.8V280.8h-2.8ZM467.1 271.5h2.8V285.5h-2.8ZM470.1 233.4h2.8V269.7h-2.8ZM473.1 220.5h2.8V235.1h-2.8ZM476.1 220.5h2.8V267.9h-2.8ZM479.1 267.4h2.8V322h-2.8ZM482.1 322h2.8V373h-2.8ZM485.1 372.3h2.8V380.5h-2.8ZM487.1 381.7h2.8V391.6h-2.8ZM490.1 391h2.8V392.2h-2.8ZM493.1 394h2.8V414.5h-2.8ZM496.1 406.9h2.8V414.5h-2.8ZM499.1 406.4h2.8V420.1h-2.8ZM502.1 395.1h2.8V405.1h-2.8ZM505.1 394h2.8V399.2h-2.8ZM508.1 399.2h2.8V415.7h-2.8ZM511.1 413.3h2.8V422.7h-2.8ZM514.1 412.7h2.8V421.5h-2.8ZM517.1 396.3h2.8V413.9h-2.8ZM520.1 380.5h2.8V397.5h-2.8ZM523.1 372.3h2.8V380.5h-2.8ZM526.1 371.1h2.8V377.6h-2.8ZM529.1 355.9h2.8V375.2h-2.8ZM532.1 355.9h2.8V374h-2.8ZM535.1 374h2.8V386.4h-2.8ZM538.1 377.6h2.8V386.4h-2.8ZM541.1 377.6h2.8V378.8h-2.8ZM544.1 377h2.8V401.6h-2.8ZM547.1 426.8h2.8V481h-2.8ZM550.1 439.1h2.8V483h-2.8ZM553.1 412.1h2.8V430.3h-2.8ZM556.1 413.3h2.8V438.5h-2.8ZM559.1 438.5h2.8V445h-2.8ZM562.1 433.8h2.8V531.9h-2.8ZM565.1 537.1h2.8V584.3h-2.8ZM568.1 572h2.8V591.4h-2.8ZM571.1 569.7h2.8V583.2h-2.8ZM574.1 570.9h2.8V609h-2.8ZM577.1 602.5h2.8V610.1h-2.8ZM580.1 617.2h2.8V652.4h-2.8ZM583.1 591.4h2.8V654.1h-2.8ZM586.1 584.3h2.8V598.4h-2.8ZM589.1 586.1h2.8V607.8h-2.8ZM592.1 593.1h2.8V601.4h-2.8ZM595.1 592.6h2.8V623h-2.8ZM598.1 612.5h2.8V619.5h-2.8ZM601.1 591.4h2.8V613.1h-2.8ZM604.1 566.2h2.8V590.2h-2.8ZM607.1 566.2h2.8V572h-2.8ZM610.1 573.8h2.8V584.3h-2.8ZM613.1 581.4h2.8V602.5h-2.8ZM616.1 580.2h2.8V597.2h-2.8ZM619.1 544.8h2.8V580.8h-2.8ZM622.1 544.2h2.8V554.7h-2.8ZM625.1 491.4h2.8V542.4h-2.8ZM628.1 492.6h2.8V530.1h-2.8ZM631.1 526.6h2.8V529.5h-2.8ZM634.1 528.9h2.8V536.6h-2.8ZM637.1 528.9h2.8V538.3h-2.8ZM639.1 532.5h2.8V556.5h-2.8ZM642.1 554.2h2.8V573.8h-2.8ZM645.1 575h2.8V589.6h-2.8ZM648.1 579.1h2.8V591.4h-2.8ZM651.1 579.1h2.8V616.6h-2.8ZM654.1 617.2h2.8V624.2h-2.8ZM657.1 595.5h2.8V623h-2.8ZM660.1 579.7h2.8V596.7h-2.8ZM663.1 549h2.8V605.5h-2.8ZM666.1 600.6h2.8V608.8h-2.8ZM669.1 601.1h2.8V634.6h-2.8ZM672.1 609.3h2.8V640.4h-2.8ZM675.1 611.7h2.8V632.8h-2.8ZM678.1 629.9h2.8V634.6h-2.8ZM681.1 611.1h2.8V635.7h-2.8ZM684.1 610.5h2.8V617.6h-2.8ZM687.1 619.3h2.8V622.2h-2.8ZM690.1 622.8h2.8V641.6h-2.8ZM693.1 645.7h2.8V675.6h-2.8ZM696.1 660.4h2.8V676.8h-2.8ZM699.1 655.1h2.8V661.5h-2.8ZM702.1 628.7h2.8V658.6h-2.8ZM705.1 627.5h2.8V628.7h-2.8ZM708.1 626.4h2.8V631.6h-2.8ZM711.1 631h2.8V636.3h-2.8ZM714.1 616.4h2.8V651.6h-2.8ZM717.1 660.2h2.8V669.6h-2.8ZM720.1 671.4h2.8V682h-2.8ZM723.1 689.6h2.8V699h-2.8ZM726.1 699.5h2.8V702.5h-2.8ZM729.1 706h2.8V724.7h-2.8ZM732.1 725.3h2.8V731.8h-2.8ZM735.1 725.9h2.8V731.2h-2.8ZM738.1 708.9h2.8V725.9h-2.8ZM741.1 710.1h2.8V715.4h-2.8ZM744.1 690.1h2.8V715.9h-2.8ZM747.1 690.7h2.8V698.4h-2.8ZM750.1 689.6h2.8V692.5h-2.8ZM753.1 687.8h2.8V694.2h-2.8ZM756.1 674.3h2.8V687.2h-2.8ZM759.1 663.2h2.8V669h-2.8ZM762.1 638.1h2.8V661.4h-2.8ZM765.1 639.2h2.8V654.4h-2.8ZM768.1 639.8h2.8V651.6h-2.8ZM771.1 645.4h2.8V646.6h-2.8ZM774.1 650.9h2.8V675.5h-2.8ZM777.1 674.3h2.8V696.6h-2.8ZM780.1 691.9h2.8V705.4h-2.8ZM783.1 690.1h2.8V706h-2.8ZM785.1 680h2.8V689.8h-2.8ZM788.1 683.7h2.8V693.1h-2.8ZM791.1 636.3h2.8V687.2h-2.8ZM794.1 625.2h2.8V639.2h-2.8ZM797.1 588h2.8V624.6h-2.8ZM800.1 574h2.8V588h-2.8ZM803.1 573h2.8V636.3h-2.8ZM806.1 634h2.8V636.9h-2.8ZM809.1 632.8h2.8V638.1h-2.8ZM812.1 633.4h2.8V658.5h-2.8ZM815.1 659.1h2.8V665.5h-2.8ZM818.1 655.6h2.8V668.5h-2.8ZM821.1 645h2.8V655.6h-2.8ZM824.1 645h2.8V665.5h-2.8ZM827.1 665.5h2.8V678.4h-2.8ZM830.1 658.5h2.8V679h-2.8ZM833.1 659.1h2.8V676.1h-2.8ZM836.1 661.4h2.8V677.2h-2.8ZM839.1 653.8h2.8V660.8h-2.8ZM842.1 654.4h2.8V657.3h-2.8ZM845.1 640h2.8V656.7h-2.8ZM848.1 640h2.8V680.2h-2.8ZM851.1 647.3h2.8V680.2h-2.8ZM854.1 645h2.8V656.7h-2.8ZM857.1 656.1h2.8V659.7h-2.8ZM860.1 662h2.8V672.6h-2.8ZM863.1 674.3h2.8V675.5h-2.8ZM866.1 674.9h2.8V682.5h-2.8ZM869.1 653.2h2.8V684.3h-2.8ZM872.1 649.1h2.8V660.8h-2.8ZM875.1 655.6h2.8V660.2h-2.8ZM878.1 656.1h2.8V680.2h-2.8ZM881.1 677.2h2.8V694.3h-2.8ZM884.1 679h2.8V696h-2.8ZM887.1 676.8h2.8V678h-2.8ZM890.1 678h2.8V691.4h-2.8ZM893.1 687.3h2.8V690.3h-2.8ZM896.1 685.6h2.8V697.9h-2.8ZM899.1 697h2.8V725h-2.8ZM902.1 725h2.8V730h-2.8ZM905.1 696.7h2.8V731h-2.8ZM908.1 683.8h2.8V698h-2.8ZM911.1 684.4h2.8V702h-2.8ZM914.1 701h2.8V704h-2.8ZM917.1 676.2h2.8V703h-2.8ZM920.1 646.9h2.8V676.8h-2.8ZM923.1 643.9h2.8V659.8h-2.8ZM926.1 660.4h2.8V670.3h-2.8ZM929.1 672.7h2.8V677.4h-2.8ZM932.1 676.8h2.8V681.5h-2.8ZM935.1 675h2.8V680.9h-2.8ZM937.1 673.8h2.8V681.5h-2.8ZM940.1 662.7h2.8V670.3h-2.8ZM943.1 641.6h2.8V663.3h-2.8ZM946.1 629.3h2.8V639.2h-2.8ZM949.1 602.3h2.8V628.1h-2.8ZM952.1 601.7h2.8V628.1h-2.8ZM955.1 609.3h2.8V624h-2.8ZM958.1 607.6h2.8V619.3h-2.8ZM961.1 618.1h2.8V636.3h-2.8ZM964.1 636.3h2.8V652.7h-2.8ZM967.1 642.8h2.8V656.8h-2.8ZM970.1 636.3h2.8V640.4h-2.8ZM973.1 622.2h2.8V639.2h-2.8ZM976.1 622.2h2.8V626.4h-2.8ZM979.1 624.1h2.8V625.3h-2.8ZM982.1 624.6h2.8V625.8h-2.8ZM985.1 628h2.8V631.5h-2.8ZM988.1 633h2.8V634.2h-2.8ZM991.1 614.5h2.8V633.8h-2.8ZM994.1 596.3h2.8V614.5h-2.8ZM997.1 586.9h2.8V598.6h-2.8ZM1000.1 579.9h2.8V585.7h-2.8ZM1003.1 565.8h2.8V575.2h-2.8ZM1006.1 567.1h2.8V568.3h-2.8ZM1009.1 569.1h2.8V588.7h-2.8ZM1012.1 584.6h2.8V595.7h-2.8ZM1015.1 591h2.8V592.2h-2.8ZM1018.1 589.8h2.8V599.8h-2.8ZM1021.1 599.8h2.8V601h-2.8ZM1024.1 597.5h2.8V610.9h-2.8ZM1027.1 608h2.8V609.2h-2.8ZM1030.1 596.3h2.8V608.6h-2.8ZM1033.1 594h2.8V595.2h-2.8ZM1036.1 569.3h2.8V594.5h-2.8ZM1039.1 564h2.8V566.4h-2.8ZM1042.1 564.8h2.8V566h-2.8ZM1045.1 565.2h2.8V566.4h-2.8ZM1048.1 563.5h2.8V584.6h-2.8ZM1051.1 581h2.8V594.5h-2.8ZM1054.1 596.3h2.8V598h-2.8ZM1057.1 594.5h2.8V598.6h-2.8ZM1060.1 597.5h2.8V602.7h-2.8ZM1063.1 597.1h2.8V603h-2.8ZM1066.1 599.8h2.8V606.8h-2.8ZM1069.1 607.4h2.8V628.5h-2.8ZM1072.1 617.4h2.8V624.4h-2.8ZM1075.1 620.3h2.8V621.5h-2.8ZM1078.1 616.8h2.8V622.1h-2.8ZM1081.1 609.8h2.8V618h-2.8ZM1083.1 610.9h2.8V639.1h-2.8ZM1086.1 642.3h2.8V652.2h-2.8ZM1089.1 649.3h2.8V653.4h-2.8ZM1092.1 648.7h2.8V657.5h-2.8ZM1095.1 655.2h2.8V658.1h-2.8ZM1098.1 649.9h2.8V658.1h-2.8ZM1101.1 648.7h2.8V649.9h-2.8ZM1104.1 634.1h2.8V646.4h-2.8ZM1107.1 636.4h2.8V656.9h-2.8ZM1110.1 658.1h2.8V673.9h-2.8ZM1113.1 670.4h2.8V672.2h-2.8ZM1116.1 665.1h2.8V671.6h-2.8ZM1119.1 665.7h2.8V667.5h-2.8ZM1122.1 657.5h2.8V666.9h-2.8ZM1125.1 654.6h2.8V656.4h-2.8ZM1128.1 647.6h2.8V657.5h-2.8ZM1131.1 645.2h2.8V651.7h-2.8ZM1134.1 641.1h2.8V648.7h-2.8ZM1137.1 633.5h2.8V640.5h-2.8ZM1140.1 628.2h2.8V633.5h-2.8ZM1143.1 613.9h2.8V626h-2.8ZM1146.1 613.3h2.8V625.9h-2.8ZM1149.1 613.3h2.8V625.6h-2.8ZM1152.1 612.7h2.8V618h-2.8ZM1155.1 603.9h2.8V615.6h-2.8ZM1158.1 603.4h2.8V604.6h-2.8ZM1161.1 599.8h2.8V619.7h-2.8ZM1164.1 601h2.8V641.7h-2.8ZM1167.1 631.1h2.8V639.3h-2.8ZM1170.1 630.6h2.8V655.2h-2.8ZM1173.1 652.2h2.8V693.6h-2.8ZM1176.1 712.6h2.8V713.8h-2.8ZM1179.1 712.4h2.8V770.5h-2.8ZM1182.1 745.4h2.8V763.6h-2.8ZM1185.1 752.5h2.8V753.7h-2.8ZM1188.1 707.1h2.8V753.8h-2.8ZM1191.1 686.3h2.8V706.2h-2.8ZM1194.1 690.4h2.8V696.2h-2.8ZM1197.1 684.5h2.8V693.9h-2.8ZM1200.1 669.8h2.8V683.9h-2.8ZM1203.1 669.2h2.8V682.1h-2.8ZM1206.1 682.1h2.8V720.3h-2.8ZM1209.1 714.5h2.8V719.3h-2.8ZM1212.1 717.9h2.8V719.1h-2.8ZM1215.1 716.7h2.8V718.5h-2.8ZM1218.1 716.7h2.8V720.3h-2.8ZM1221.1 709.7h2.8V720.3h-2.8ZM1224.1 708.5h2.8V709.7h-2.8ZM1227.1 682.1h2.8V708.5h-2.8ZM1230.1 676.9h2.8V680.4h-2.8ZM1233.1 672.8h2.8V677.5h-2.8ZM1235.1 682.1h2.8V683.3h-2.8ZM1238.1 673.4h2.8V682.1h-2.8ZM1241.1 673.4h2.8V684.5h-2.8ZM1244.1 679.2h2.8V687.4h-2.8ZM1247.1 679.2h2.8V684.5h-2.8ZM1250.1 642.3h2.8V673.4h-2.8ZM1253.1 617.7h2.8V641.1h-2.8ZM1256.1 617.1h2.8V631.2h-2.8ZM1259.1 618.3h2.8V631.2h-2.8ZM1262.1 620h2.8V627.6h-2.8ZM1265.1 626.5h2.8V633.5h-2.8ZM1268.1 625.3h2.8V630.6h-2.8ZM1271.1 608.3h2.8V624.7h-2.8ZM1274.1 585.4h2.8V600.1h-2.8ZM1277.1 550.8h2.8V588.4h-2.8ZM1280.1 554.3h2.8V581.9h-2.8ZM1283.1 580.1h2.8V594.8h-2.8ZM1286.1 563.1h2.8V594.8h-2.8ZM1289.1 563.1h2.8V613h-2.8ZM1292.1 597.7h2.8V607.1h-2.8ZM1295.1 588.9h2.8V614.2h-2.8ZM1298.1 612.4h2.8V614.2h-2.8ZM1301.1 591.3h2.8V611.2h-2.8ZM1304.1 580.1h2.8V591.9h-2.8ZM1307.1 564.9h2.8V580.1h-2.8ZM1310.1 565.4h2.8V566.6h-2.8ZM1313.1 551.4h2.8V564.3h-2.8ZM1316.1 546.7h2.8V581.3h-2.8ZM1319.1 584.2h2.8V595.4h-2.8ZM1322.1 573.7h2.8V595.4h-2.8ZM1325.1 565.5h2.8V574.9h-2.8ZM1328.1 564.9h2.8V574.3h-2.8ZM1331.1 573.1h2.8V597.7h-2.8ZM1334.1 621.2h2.8V623.5h-2.8ZM1337.1 618.3h2.8V630.6h-2.8ZM1340.1 628.8h2.8V635.8h-2.8ZM1343.1 618.8h2.8V655h-2.8ZM1346.1 655h2.8V663.6h-2.8ZM1349.1 660h2.8V663h-2.8ZM1352.1 660h2.8V664h-2.8ZM1355.1 658h2.8V664h-2.8ZM1358.1 650h2.8V658h-2.8ZM1361.1 645h2.8V653h-2.8ZM1364.1 639h2.8V650h-2.8ZM1367.1 630.8h2.8V639.8h-2.8ZM1370.1 629.3h2.8V644.3h-2.8ZM1373.1 605.4h2.8V644.3h-2.8ZM1376.1 641h2.8V647h-2.8ZM1379.1 622.6h2.8V639.8h-2.8ZM1381.1 616.6h2.8V628.6h-2.8Z" fill="#000"/><path d="M15 361.3h1V370.8h-1ZM24 373h1V383.1h-1ZM33 438.3h1V443.8h-1ZM36 426h1V435.6h-1ZM39 424.3h1V427.9h-1ZM42 417.6h1V422.4h-1ZM56 433h1V450.8h-1ZM71 504.2h1V520.8h-1ZM77 535.9h1V541.3h-1ZM83 525.9h1V547.5h-1ZM86 511.3h1V526.7h-1ZM89 494.3h1V509.1h-1ZM95 492.5h1V495.6h-1ZM104 518.9h1V523.7h-1ZM107 500.1h1V517.9h-1ZM113 494.3h1V495.6h-1ZM125 528.3h1V539h-1ZM134 540h1V541.3h-1ZM137 532.4h1V538.4h-1ZM143 532.4h1V560.7h-1ZM152 540.6h1V553.4h-1ZM155 518.3h1V539h-1ZM158 500.1h1V515.5h-1ZM161 484.3h1V496.8h-1ZM164 458.8h1V484.4h-1ZM173 440.1h1V457.2h-1ZM182 424.8h1V437.9h-1ZM188 410.8h1V420.3h-1ZM190 399.1h1V407.4h-1ZM196 389.7h1V412.1h-1ZM199 385.6h1V387.5h-1ZM202 368h1V382.2h-1ZM208 373.3h1V384.6h-1ZM223 373.3h1V392.2h-1ZM232 336.3h1V400.4h-1ZM238 343.4h1V365.2h-1ZM241 317h1V341.8h-1ZM244 296.3h1V315.4h-1ZM247 271.7h1V291.8h-1ZM250 254.1h1V269.5h-1ZM262 265.3h1V287.7h-1ZM265 245.9h1V264.2h-1ZM268 224.2h1V243.7h-1ZM286 276.4h1V300.2h-1ZM298 289.2h1V300.7h-1ZM301 296.3h1V305.2h-1ZM304 286.4h1V295.3h-1ZM307 276.4h1V285.4h-1ZM310 265.3h1V275.4h-1ZM313 247.1h1V266h-1ZM322 250.6h1V254.3h-1ZM325 191.1h1V249.6h-1ZM328 181.1h1V194.7h-1ZM334 196.3h1V200.2h-1ZM345 196.9h1V200.2h-1ZM348 178.2h1V194.7h-1ZM351 142h1V174.6h-1ZM360 169.4h1V183.6h-1ZM363 153.5h1V170.7h-1ZM366 146.5h1V149h-1ZM369 124.2h1V142h-1ZM384 134.8h1V156h-1ZM393 188.1h1V200.2h-1ZM402 222.8h1V224.2h-1ZM405 207.8h1V221.2h-1ZM408 203.8h1V206.2h-1ZM411 192.2h1V200.2h-1ZM414 177h1V191.8h-1ZM429 196.3h1V200.2h-1ZM432 184.9h1V194.4h-1ZM450 246.5h1V254.8h-1ZM453 240.6h1V245.5h-1ZM459 263.5h1V271.8h-1ZM462 261.1h1V263h-1ZM468 272.3h1V284.7h-1ZM471 234.2h1V268.9h-1ZM474 221.3h1V234.3h-1ZM497 407.7h1V413.7h-1ZM503 395.9h1V404.3h-1ZM515 413.5h1V420.7h-1ZM518 397.1h1V413.1h-1ZM521 381.3h1V396.7h-1ZM524 373.1h1V379.7h-1ZM530 356.7h1V374.4h-1ZM539 378.4h1V385.6h-1ZM551 439.9h1V482.2h-1ZM554 412.9h1V429.5h-1ZM560 439.3h1V444.2h-1ZM572 570.5h1V582.4h-1ZM578 603.3h1V609.3h-1ZM584 592.2h1V653.3h-1ZM587 585.1h1V597.6h-1ZM593 593.9h1V600.6h-1ZM599 613.3h1V618.7h-1ZM602 592.2h1V612.3h-1ZM605 567h1V589.4h-1ZM617 581h1V596.4h-1ZM620 545.6h1V580h-1ZM626 492.2h1V541.6h-1ZM632 527.4h1V528.7h-1ZM638 529.7h1V537.5h-1ZM649 579.9h1V590.6h-1ZM658 596.3h1V622.2h-1ZM661 580.5h1V595.9h-1ZM667 601.4h1V608h-1ZM673 610.1h1V639.6h-1ZM682 611.9h1V634.9h-1ZM688 620.1h1V621.4h-1ZM697 661.2h1V676h-1ZM703 629.5h1V657.8h-1ZM712 631.8h1V635.5h-1ZM736 726.7h1V730.4h-1ZM739 709.7h1V725.1h-1ZM745 690.9h1V715.1h-1ZM748 691.5h1V697.6h-1ZM754 688.6h1V693.4h-1ZM757 675.1h1V686.4h-1ZM760 664h1V668.2h-1ZM763 638.9h1V660.6h-1ZM769 640.6h1V650.8h-1ZM784 690.9h1V705.2h-1ZM786 680.8h1V689h-1ZM789 684.5h1V692.3h-1ZM792 637.1h1V686.4h-1ZM795 626h1V638.4h-1ZM798 588.8h1V623.8h-1ZM801 574.8h1V587.2h-1ZM807 634.8h1V636.1h-1ZM810 633.6h1V637.3h-1ZM819 656.4h1V667.7h-1ZM822 645.8h1V654.8h-1ZM831 659.3h1V678.2h-1ZM837 662.2h1V676.4h-1ZM840 654.6h1V660h-1ZM846 640.8h1V655.9h-1ZM852 648.1h1V679.4h-1ZM870 654h1V683.5h-1ZM885 679.8h1V695.2h-1ZM894 688.1h1V689.5h-1ZM906 697.5h1V730.2h-1ZM909 684.6h1V697.2h-1ZM918 677h1V702.2h-1ZM921 647.7h1V676h-1ZM936 675.8h1V680.1h-1ZM941 663.5h1V669.5h-1ZM944 642.4h1V662.5h-1ZM947 630.1h1V638.4h-1ZM950 603.1h1V627.3h-1ZM956 610.1h1V623.2h-1ZM968 643.6h1V656h-1ZM974 623h1V638.4h-1ZM992 615.3h1V633h-1ZM995 597.1h1V613.7h-1ZM998 587.7h1V597.8h-1ZM1001 580.7h1V584.9h-1ZM1004 566.6h1V574.4h-1ZM1031 597.1h1V607.8h-1ZM1037 570.1h1V593.7h-1ZM1040 564.8h1V565.6h-1ZM1064 597.9h1V602.2h-1ZM1073 618.2h1V623.6h-1ZM1079 617.6h1V621.3h-1ZM1082 610.6h1V617.2h-1ZM1099 650.7h1V657.3h-1ZM1105 634.9h1V645.6h-1ZM1117 665.9h1V670.8h-1ZM1123 658.3h1V666.1h-1ZM1129 648.4h1V656.7h-1ZM1135 641.9h1V647.9h-1ZM1138 634.3h1V639.7h-1ZM1141 629h1V632.7h-1ZM1144 614.7h1V625.2h-1ZM1150 614.1h1V624.8h-1ZM1156 604.7h1V614.8h-1ZM1183 746.2h1V762.8h-1ZM1189 707.9h1V753h-1ZM1192 687.1h1V705.4h-1ZM1198 685.3h1V693.1h-1ZM1201 670.6h1V683.1h-1ZM1222 710.5h1V719.5h-1ZM1228 682.9h1V707.7h-1ZM1231 677.7h1V679.6h-1ZM1239 674.2h1V681.3h-1ZM1245 680h1V686.6h-1ZM1251 643.1h1V672.6h-1ZM1254 618.5h1V640.3h-1ZM1269 626.1h1V629.8h-1ZM1272 609.1h1V623.9h-1ZM1275 586.2h1V599.3h-1ZM1278 551.6h1V587.6h-1ZM1287 563.9h1V594h-1ZM1293 598.5h1V606.3h-1ZM1302 592.1h1V610.4h-1ZM1305 580.9h1V591.1h-1ZM1308 565.7h1V579.3h-1ZM1314 552.2h1V563.5h-1ZM1323 574.5h1V594.6h-1ZM1326 566.3h1V574.1h-1ZM1335 622h1V622.7h-1ZM1350 660.8h1V662.2h-1ZM1356 658.8h1V663.2h-1ZM1359 650.8h1V657.2h-1ZM1362 645.8h1V652.2h-1ZM1365 639.8h1V649.2h-1ZM1368 631.6h1V639h-1ZM1377 641.8h1V646.2h-1ZM1380 623.4h1V639h-1ZM1382 617.4h1V627.8h-1Z" fill="#fff" shape-rendering="crispEdges"/></g><text x="1370" y="557.5" font-size="19.5" font-weight="bold" font-style="italic" fill="#000" text-anchor="start" textLength="148" lengthAdjust="spacingAndGlyphs">100.15 - 100.88</text><text x="1393.7" y="612" font-size="19.5" font-weight="bold" font-style="italic" fill="#000" text-anchor="start" textLength="125.5" lengthAdjust="spacingAndGlyphs">99.06 - 99.62</text><text x="1407" y="676.5" font-size="17" font-weight="bold" font-style="italic" fill="#000" text-anchor="start" textLength="112" lengthAdjust="spacingAndGlyphs">97.75 - 98.13</text><text x="1392.6" y="737.3" font-size="19.5" font-weight="bold" font-style="italic" fill="#000" text-anchor="start" textLength="127.5" lengthAdjust="spacingAndGlyphs">96.38 - 96.95</text><rect x="39.1" y="108.5" width="266.6" height="27.6" fill="#fff" stroke="#000" stroke-width="2"/><text x="43.3" y="128.8" font-size="19" font-weight="bold" font-style="normal" fill="#000" text-anchor="start" textLength="257.7" lengthAdjust="spacingAndGlyphs" stroke="#000" stroke-width="0.1">BANDS TREND FILTER LOGIC</text><rect x="42" y="174.3" width="201" height="48.4" rx="4" fill="#000" opacity="0.13" filter="url(#blur)"/><rect x="42" y="172.3" width="201" height="48.4" rx="4.5" fill="#388e3c"/><text x="51.2" y="192.8" font-size="17" font-weight="bold" font-style="italic" fill="#fff" text-anchor="start" textLength="111" lengthAdjust="spacingAndGlyphs" stroke="#fff" stroke-width="0.3">Second break</text><text x="51.2" y="210.8" font-size="17" font-weight="bold" font-style="italic" fill="#fff" text-anchor="start" textLength="182" lengthAdjust="spacingAndGlyphs" stroke="#fff" stroke-width="0.3">(Bullish confirmation)</text><rect x="44" y="251" width="113" height="48.5" rx="4" fill="#000" opacity="0.13" filter="url(#blur)"/><rect x="44" y="249" width="113" height="48.5" rx="4.5" fill="#388e3c"/><text x="52.9" y="269.5" font-size="17" font-weight="bold" font-style="italic" fill="#fff" text-anchor="start" textLength="93.5" lengthAdjust="spacingAndGlyphs" stroke="#fff" stroke-width="0.3">First break</text><text x="52.9" y="287.6" font-size="17" font-weight="bold" font-style="italic" fill="#fff" text-anchor="start" textLength="68.5" lengthAdjust="spacingAndGlyphs" stroke="#fff" stroke-width="0.3">(Bullish)</text><rect x="315.3" y="450" width="158.9" height="48.9" rx="4" fill="#000" opacity="0.13" filter="url(#blur)"/><rect x="315.3" y="448" width="158.9" height="48.9" rx="4.5" fill="#388e3c"/><text x="324" y="467.9" font-size="17" font-weight="bold" font-style="italic" fill="#fff" text-anchor="start" textLength="134" lengthAdjust="spacingAndGlyphs" stroke="#fff" stroke-width="0.3">Retest zone w/o</text><text x="324" y="486.6" font-size="17" font-weight="bold" font-style="italic" fill="#fff" text-anchor="start" textLength="141.5" lengthAdjust="spacingAndGlyphs" stroke="#fff" stroke-width="0.3">breaking bearish</text><rect x="1217" y="438" width="143.7" height="31" rx="4" fill="#000" opacity="0.13" filter="url(#blur)"/><rect x="1217" y="436" width="143.7" height="31" rx="4.5" fill="#388e3c"/><text x="1226.4" y="456.5" font-size="17" font-weight="bold" font-style="italic" fill="#fff" text-anchor="start" textLength="123.2" lengthAdjust="spacingAndGlyphs" stroke="#fff" stroke-width="0.3">Bullish break 1</text><rect x="1248.8" y="767" width="205.2" height="48.7" rx="4" fill="#000" opacity="0.13" filter="url(#blur)"/><rect x="1248.8" y="765" width="205.2" height="48.7" rx="4.5" fill="#388e3c"/><text x="1258.3" y="786.4" font-size="17" font-weight="bold" font-style="italic" fill="#fff" text-anchor="start" textLength="134.5" lengthAdjust="spacingAndGlyphs" stroke="#fff" stroke-width="0.3">Retest zone w/o</text><text x="1258.3" y="803.3" font-size="17" font-weight="bold" font-style="italic" fill="#fff" text-anchor="start" textLength="187.5" lengthAdjust="spacingAndGlyphs" stroke="#fff" stroke-width="0.3">breaking bearish (Yet)</text><path d="M587.6 152.9H722.6a7 7 0 0 1 7 7V204.6a7 7 0 0 1 -7 7H590L519.5 253.5L580.6 202.5V159.9a7 7 0 0 1 7 -7Z" fill="#5acfaa" stroke="#10241c" stroke-width="1.7" stroke-linejoin="round"/><text x="592.5" y="179" font-size="16.5" font-weight="normal" font-style="normal" fill="#111" text-anchor="start" textLength="112.5" lengthAdjust="spacingAndGlyphs" stroke="#111" stroke-width="0.3">Green: 50 DAY</text><text x="592.5" y="196.2" font-size="16.5" font-weight="normal" font-style="normal" fill="#111" text-anchor="start" textLength="126" lengthAdjust="spacingAndGlyphs" stroke="#111" stroke-width="0.3">EMA Band (1 sd)</text><path d="M955 438H1139.3a7 7 0 0 1 7 7V472.3a7 7 0 0 1 -7 7H957L883 523L948 470V445a7 7 0 0 1 7 -7Z" fill="#dcb1e3" stroke="#1c121d" stroke-width="1.7" stroke-linejoin="round"/><text x="959.6" y="464.3" font-size="16.5" font-weight="normal" font-style="normal" fill="#111" text-anchor="start" textLength="174.5" lengthAdjust="spacingAndGlyphs" stroke="#111" stroke-width="0.3">200 DAY EMA (0.25 sd)</text><g transform="translate(1381.8 827.4)"><circle cx="9.2" cy="0" r="11.1" fill="#fff" stroke="#f23645" stroke-width="2"/><path d="M15 -6.8h3M16 0h3.4M14.5 7.2h3" stroke="#f23645" stroke-width="3.2"/><circle cx="4.6" cy="0" r="11.1" fill="#fff" stroke="#f23645" stroke-width="2"/><path d="M10.5 -6.8h2.6M12 0h2.6M10 7.2h2.6" stroke="#f23645" stroke-width="3.2"/><circle cx="0" cy="0" r="11.1" fill="#fff" stroke="#f23645" stroke-width="2.1"/><clipPath id="fc"><circle cx="0.2" cy="0.5" r="9"/></clipPath><g clip-path="url(#fc)"><rect x="-10" y="-10" width="20" height="20" fill="#fff"/><rect x="-10" y="-8.6" width="20" height="3.5" fill="#f23645"/><rect x="-10" y="-1.6" width="20" height="3.6" fill="#f23645"/><rect x="-10" y="5.6" width="20" height="4" fill="#f23645"/><rect x="-10" y="-8.6" width="11.9" height="10.8" fill="#2f8ae5"/><path d="M-6.3 -6.6v1.6M-3.3 -6.6v1.6M-0.3 -6.6v1.6M-6.3 -3.6v1.6M-3.3 -3.6v1.6M-0.3 -3.6v1.6M-6.3 -0.6v1.6M-3.3 -0.6v1.6M-0.3 -0.6v1.6" stroke="#fff" stroke-width="0.9"/></g></g><text x="1536" y="110.6" font-size="13" font-weight="normal" font-style="normal" fill="#1e222d" text-anchor="start" textLength="46.2" lengthAdjust="spacingAndGlyphs" stroke="#1e222d" stroke-width="0.3">110.000</text><text x="1536" y="157.4" font-size="13" font-weight="normal" font-style="normal" fill="#1e222d" text-anchor="start" textLength="46.2" lengthAdjust="spacingAndGlyphs" stroke="#1e222d" stroke-width="0.3">109.000</text><text x="1536" y="204.2" font-size="13" font-weight="normal" font-style="normal" fill="#1e222d" text-anchor="start" textLength="46.2" lengthAdjust="spacingAndGlyphs" stroke="#1e222d" stroke-width="0.3">108.000</text><text x="1536" y="251" font-size="13" font-weight="normal" font-style="normal" fill="#1e222d" text-anchor="start" textLength="46.2" lengthAdjust="spacingAndGlyphs" stroke="#1e222d" stroke-width="0.3">107.000</text><text x="1536" y="297.8" font-size="13" font-weight="normal" font-style="normal" fill="#1e222d" text-anchor="start" textLength="46.2" lengthAdjust="spacingAndGlyphs" stroke="#1e222d" stroke-width="0.3">106.000</text><text x="1536" y="344.6" font-size="13" font-weight="normal" font-style="normal" fill="#1e222d" text-anchor="start" textLength="46.2" lengthAdjust="spacingAndGlyphs" stroke="#1e222d" stroke-width="0.3">105.000</text><text x="1536" y="391.4" font-size="13" font-weight="normal" font-style="normal" fill="#1e222d" text-anchor="start" textLength="46.2" lengthAdjust="spacingAndGlyphs" stroke="#1e222d" stroke-width="0.3">104.000</text><text x="1536" y="438.2" font-size="13" font-weight="normal" font-style="normal" fill="#1e222d" text-anchor="start" textLength="46.2" lengthAdjust="spacingAndGlyphs" stroke="#1e222d" stroke-width="0.3">103.000</text><text x="1536" y="485" font-size="13" font-weight="normal" font-style="normal" fill="#1e222d" text-anchor="start" textLength="46.2" lengthAdjust="spacingAndGlyphs" stroke="#1e222d" stroke-width="0.3">102.000</text><text x="1536" y="531.8" font-size="13" font-weight="normal" font-style="normal" fill="#1e222d" text-anchor="start" textLength="46.2" lengthAdjust="spacingAndGlyphs" stroke="#1e222d" stroke-width="0.3">101.000</text><text x="1536" y="578.6" font-size="13" font-weight="normal" font-style="normal" fill="#1e222d" text-anchor="start" textLength="46.2" lengthAdjust="spacingAndGlyphs" stroke="#1e222d" stroke-width="0.3">100.000</text><text x="1536" y="672.2" font-size="13" font-weight="normal" font-style="normal" fill="#1e222d" text-anchor="start" textLength="39.6" lengthAdjust="spacingAndGlyphs" stroke="#1e222d" stroke-width="0.3">98.000</text><text x="1536" y="719" font-size="13" font-weight="normal" font-style="normal" fill="#1e222d" text-anchor="start" textLength="39.6" lengthAdjust="spacingAndGlyphs" stroke="#1e222d" stroke-width="0.3">97.000</text><text x="1536" y="765.8" font-size="13" font-weight="normal" font-style="normal" fill="#1e222d" text-anchor="start" textLength="39.6" lengthAdjust="spacingAndGlyphs" stroke="#1e222d" stroke-width="0.3">96.000</text><text x="1536" y="812.6" font-size="13" font-weight="normal" font-style="normal" fill="#1e222d" text-anchor="start" textLength="39.6" lengthAdjust="spacingAndGlyphs" stroke="#1e222d" stroke-width="0.3">95.000</text><text x="1536" y="622" font-size="13" font-weight="normal" font-style="normal" fill="#1e222d" text-anchor="start" textLength="39.6" lengthAdjust="spacingAndGlyphs" stroke="#1e222d" stroke-width="0.3">99.077</text><rect x="1527" y="626.8" width="54.9" height="19.2" rx="2" fill="#6f3ff5"/><text x="1536" y="640.7" font-size="13" font-weight="normal" font-style="normal" fill="#fff" text-anchor="start" textLength="39.6" lengthAdjust="spacingAndGlyphs" stroke="#fff" stroke-width="0.3">99.068</text><rect x="1527" y="646" width="54.9" height="18.6" rx="2" fill="#08ab54"/><text x="1536" y="659.9" font-size="13" font-weight="normal" font-style="normal" fill="#fff" text-anchor="start" textLength="39.6" lengthAdjust="spacingAndGlyphs" stroke="#fff" stroke-width="0.3">98.792</text><rect x="1529.5" y="33.5" width="61.5" height="29.5" rx="4" fill="#fff" stroke="#eceef2" stroke-width="1"/><text x="1540.3" y="53.3" font-size="13" font-weight="normal" font-style="normal" fill="#131722" text-anchor="start" textLength="23" lengthAdjust="spacingAndGlyphs" stroke="#131722" stroke-width="0.3">USD</text><text x="25" y="861.8" font-size="13" font-weight="normal" font-style="normal" fill="#131722" text-anchor="middle" textLength="22" lengthAdjust="spacingAndGlyphs" stroke="#131722" stroke-width="0.3">Aug</text><text x="91" y="861.8" font-size="13" font-weight="normal" font-style="normal" fill="#131722" text-anchor="middle" textLength="21.5" lengthAdjust="spacingAndGlyphs" stroke="#131722" stroke-width="0.3">Sep</text><text x="154" y="861.8" font-size="13" font-weight="normal" font-style="normal" fill="#131722" text-anchor="middle" textLength="20.5" lengthAdjust="spacingAndGlyphs" stroke="#131722" stroke-width="0.3">Oct</text><text x="224" y="861.8" font-size="13" font-weight="normal" font-style="normal" fill="#131722" text-anchor="middle" textLength="22.5" lengthAdjust="spacingAndGlyphs" stroke="#131722" stroke-width="0.3">Nov</text><text x="287" y="861.8" font-size="13" font-weight="normal" font-style="normal" fill="#131722" text-anchor="middle" textLength="21.5" lengthAdjust="spacingAndGlyphs" stroke="#131722" stroke-width="0.3">Dec</text><text x="351" y="861.8" font-size="13" font-weight="bold" font-style="normal" fill="#131722" text-anchor="middle" textLength="30" lengthAdjust="spacingAndGlyphs" stroke="#131722" stroke-width="0.3">2025</text><text x="417" y="861.8" font-size="13" font-weight="normal" font-style="normal" fill="#131722" text-anchor="middle" textLength="21" lengthAdjust="spacingAndGlyphs" stroke="#131722" stroke-width="0.3">Feb</text><text x="477" y="861.8" font-size="13" font-weight="normal" font-style="normal" fill="#131722" text-anchor="middle" textLength="21.7" lengthAdjust="spacingAndGlyphs" stroke="#131722" stroke-width="0.3">Mar</text><text x="541" y="861.8" font-size="13" font-weight="normal" font-style="normal" fill="#131722" text-anchor="middle" textLength="20" lengthAdjust="spacingAndGlyphs" stroke="#131722" stroke-width="0.3">Apr</text><text x="604" y="861.8" font-size="13" font-weight="normal" font-style="normal" fill="#131722" text-anchor="middle" textLength="23.4" lengthAdjust="spacingAndGlyphs" stroke="#131722" stroke-width="0.3">May</text><text x="670" y="861.8" font-size="13" font-weight="normal" font-style="normal" fill="#131722" text-anchor="middle" textLength="20.4" lengthAdjust="spacingAndGlyphs" stroke="#131722" stroke-width="0.3">Jun</text><text x="733" y="861.8" font-size="13" font-weight="normal" font-style="normal" fill="#131722" text-anchor="middle" textLength="17" lengthAdjust="spacingAndGlyphs" stroke="#131722" stroke-width="0.3">Jul</text><text x="802" y="861.8" font-size="13" font-weight="normal" font-style="normal" fill="#131722" text-anchor="middle" textLength="22" lengthAdjust="spacingAndGlyphs" stroke="#131722" stroke-width="0.3">Aug</text><text x="866" y="861.8" font-size="13" font-weight="normal" font-style="normal" fill="#131722" text-anchor="middle" textLength="21.5" lengthAdjust="spacingAndGlyphs" stroke="#131722" stroke-width="0.3">Sep</text><text x="932" y="861.8" font-size="13" font-weight="normal" font-style="normal" fill="#131722" text-anchor="middle" textLength="20.5" lengthAdjust="spacingAndGlyphs" stroke="#131722" stroke-width="0.3">Oct</text><text x="1001" y="861.8" font-size="13" font-weight="normal" font-style="normal" fill="#131722" text-anchor="middle" textLength="22.5" lengthAdjust="spacingAndGlyphs" stroke="#131722" stroke-width="0.3">Nov</text><text x="1062" y="861.8" font-size="13" font-weight="normal" font-style="normal" fill="#131722" text-anchor="middle" textLength="21.5" lengthAdjust="spacingAndGlyphs" stroke="#131722" stroke-width="0.3">Dec</text><text x="1128.5" y="861.8" font-size="13" font-weight="bold" font-style="normal" fill="#131722" text-anchor="middle" textLength="30" lengthAdjust="spacingAndGlyphs" stroke="#131722" stroke-width="0.3">2026</text><text x="1191.7" y="861.8" font-size="13" font-weight="normal" font-style="normal" fill="#131722" text-anchor="middle" textLength="21" lengthAdjust="spacingAndGlyphs" stroke="#131722" stroke-width="0.3">Feb</text><text x="1251.8" y="861.8" font-size="13" font-weight="normal" font-style="normal" fill="#131722" text-anchor="middle" textLength="21.7" lengthAdjust="spacingAndGlyphs" stroke="#131722" stroke-width="0.3">Mar</text><text x="1318" y="861.8" font-size="13" font-weight="normal" font-style="normal" fill="#131722" text-anchor="middle" textLength="20" lengthAdjust="spacingAndGlyphs" stroke="#131722" stroke-width="0.3">Apr</text><text x="1384.8" y="861.8" font-size="13" font-weight="normal" font-style="normal" fill="#131722" text-anchor="middle" textLength="23.4" lengthAdjust="spacingAndGlyphs" stroke="#131722" stroke-width="0.3">May</text><text x="1448" y="861.8" font-size="13" font-weight="normal" font-style="normal" fill="#131722" text-anchor="middle" textLength="20.4" lengthAdjust="spacingAndGlyphs" stroke="#131722" stroke-width="0.3">Jun</text><text x="1514.6" y="861.8" font-size="13" font-weight="normal" font-style="normal" fill="#131722" text-anchor="middle" textLength="17" lengthAdjust="spacingAndGlyphs" stroke="#131722" stroke-width="0.3">Jul</text><g fill="#131722"><path d="M13.1 896.8H26.3V913.2H19.7V903.3H13.1Z"/><circle cx="31.1" cy="900" r="3.25"/><path d="M38.3 896.8H45.8L38.9 913.2H31.4Z"/></g><text x="54.2" y="913.2" font-size="22.3" font-weight="bold" font-style="normal" fill="#131722" text-anchor="start" textLength="133.4" lengthAdjust="spacingAndGlyphs" stroke="#131722" stroke-width="0.3">TradingView</text></svg></body></html>
